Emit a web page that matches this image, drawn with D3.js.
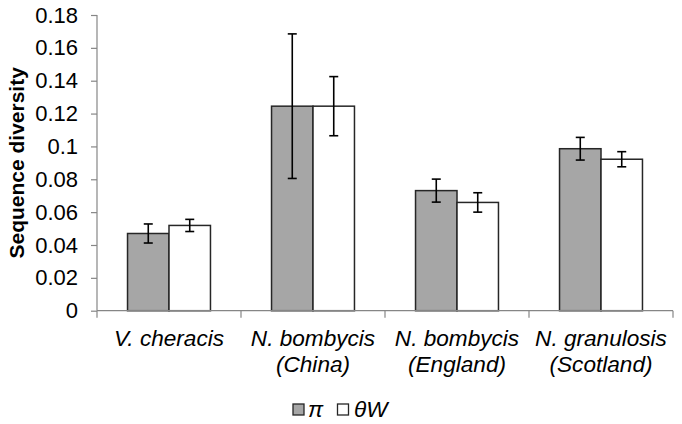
<!DOCTYPE html>
<html>
<head>
<meta charset="utf-8">
<script src="https://cdn.jsdelivr.net/npm/d3@7"></script>
<style>
  html, body { margin: 0; padding: 0; background: #fff; }
  svg { display: block; }
  text { font-family: "Liberation Sans", Arial, sans-serif; fill: #000; }
</style>
</head>
<body>
<svg id="chart" width="682" height="424"></svg>
<script>
const categories = [["V. cheracis"], ["N. bombycis", "(China)"], ["N. bombycis", "(England)"], ["N. granulosis", "(Scotland)"]];
const seriesNames = ["π", "θW"];
const piValues = [0.047, 0.1245, 0.0731, 0.0986];
const piErrors = [0.0058, 0.044, 0.007, 0.0069];
const thetaValues = [0.0519, 0.1245, 0.0659, 0.0922];
const thetaErrors = [0.0037, 0.018, 0.0059, 0.0046];
const yTicks = [0, 0.02, 0.04, 0.06, 0.08, 0.1, 0.12, 0.14, 0.16, 0.18];
const yTitle = "Sequence diversity";

const colors = ["#a6a6a6", "#ffffff"];
const svg = d3.select("#chart");
const mLeft = 97, mRight = 673, mTop = 15, mBottom = 310.7;

const catKeys = categories.map(c => c.join(" "));
const x0 = d3.scaleBand().domain(catKeys).range([mLeft, mRight]).paddingInner(0.424).paddingOuter(0.212);
const x1 = d3.scaleBand().domain(seriesNames).range([0, x0.bandwidth()]);
const y = d3.scaleLinear().domain([0, 0.18]).range([mBottom, mTop]);

const data = [];
catKeys.forEach((k, i) => {
  data.push({cat: k, s: seriesNames[0], v: piValues[i], e: piErrors[i], c: colors[0]});
  data.push({cat: k, s: seriesNames[1], v: thetaValues[i], e: thetaErrors[i], c: colors[1]});
});

// Y axis
const yAxis = d3.axisLeft(y).tickValues(yTicks).tickSize(6).tickPadding(13)
  .tickFormat(d => d === 0 ? "0" : String(+d.toFixed(2)));
const gy = svg.append("g").attr("transform", `translate(${mLeft},0)`).call(yAxis);
gy.select(".domain").attr("stroke", "#868686").attr("stroke-width", 1.2).attr("d", `M0,${mTop}V${mBottom}`);
gy.selectAll(".tick line").attr("stroke", "#868686").attr("stroke-width", 1.2);
gy.selectAll(".tick text").attr("font-size", 22).attr("font-family", "Liberation Sans, Arial, sans-serif").attr("fill", "#000");

// Bars
svg.append("g").selectAll("rect").data(data).join("rect")
  .attr("x", d => x0(d.cat) + x1(d.s))
  .attr("y", d => y(d.v))
  .attr("width", x1.bandwidth())
  .attr("height", d => y(0) - y(d.v))
  .attr("fill", d => d.c)
  .attr("stroke", "#262626")
  .attr("stroke-width", 1.5);

// X axis
const step = x0.step();
const xTickPos = d3.range(catKeys.length + 1).map(i => mLeft + i * step);
svg.append("line").attr("x1", mLeft).attr("x2", mRight).attr("y1", mBottom).attr("y2", mBottom)
  .attr("stroke", "#868686").attr("stroke-width", 1.2);
svg.append("g").selectAll("line").data(xTickPos).join("line")
  .attr("x1", d => d).attr("x2", d => d).attr("y1", mBottom).attr("y2", mBottom + 7)
  .attr("stroke", "#868686").attr("stroke-width", 1.2);

// Error bars
const eg = svg.append("g").attr("stroke", "#000").attr("stroke-width", 1.6);
data.forEach(d => {
  const cx = x0(d.cat) + x1(d.s) + x1.bandwidth() / 2;
  const y1 = y(d.v + d.e), y2 = y(d.v - d.e);
  eg.append("line").attr("x1", cx).attr("x2", cx).attr("y1", y1).attr("y2", y2);
  eg.append("line").attr("x1", cx - 4.5).attr("x2", cx + 4.5).attr("y1", y1).attr("y2", y1);
  eg.append("line").attr("x1", cx - 4.5).attr("x2", cx + 4.5).attr("y1", y2).attr("y2", y2);
});

// Category labels
categories.forEach((lines, i) => {
  const cx = x0(catKeys[i]) + x0.bandwidth() / 2;
  const t = svg.append("text").attr("text-anchor", "middle").attr("font-size", 22.6).attr("font-style", "italic");
  lines.forEach((ln, j) => {
    t.append("tspan").attr("x", cx).attr("y", 346 + j * 26).text(ln);
  });
});

// Y title
svg.append("text")
  .attr("transform", `translate(24,${(mTop + mBottom) / 2}) rotate(-90)`)
  .attr("text-anchor", "middle").attr("font-size", 21).attr("font-weight", "bold")
  .text(yTitle);

// Legend
const legend = svg.append("g");
const legendItems = [{name: seriesNames[0], c: colors[0], x: 293, tx: 308}, {name: seriesNames[1], c: colors[1], x: 337.5, tx: 354}];
legendItems.forEach(it => {
  legend.append("rect").attr("x", it.x).attr("y", 404).attr("width", 11).attr("height", 11)
    .attr("fill", it.c).attr("stroke", "#262626").attr("stroke-width", 1.3);
  legend.append("text").attr("x", it.tx).attr("y", 416.5).attr("font-size", 22.6).attr("font-style", "italic").text(it.name);
});
</script>
</body>
</html>
